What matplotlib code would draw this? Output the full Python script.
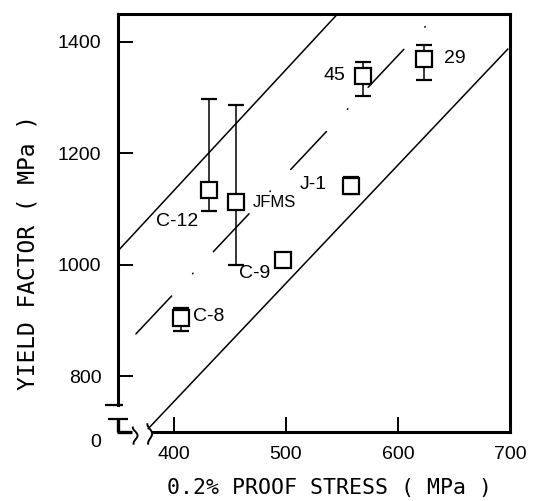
import matplotlib
matplotlib.use("Agg")
import matplotlib.pyplot as plt
import numpy as np

# ---------------- data ----------------
steel = ["C-12", "JFMS", "C-9", "C-8", "J-1", "45", "29"]
proof_stress = [431, 455, 497, 406, 558, 569, 623]
yield_factor = [1135, 1112, 1009, 905, 1142, 1339, 1369]

eb_steel = ["C-12", "JFMS", "C-8", "J-1", "45", "29"]
eb_x = [431, 455, 406, 558, 569, 623]
eb_y = [1135, 1112, 905, 1142, 1339, 1369]
eb_low = [1096, 1000, 882, 1127, 1303, 1331]
eb_high = [1297, 1287, 923, 1157, 1364, 1394]

upper_x = [350, 546]
upper_y = [1025, 1450]
mid_x = [366, 626]
mid_y = [876, 1431]
lower_x = [377, 698]
lower_y = [706, 1387]

xticks = [400, 500, 600, 700]
xticklabels = ["400", "500", "600", "700"]
yticks = [800, 1000, 1200, 1400]
yticklabels = ["800", "1000", "1200", "1400"]

# ---------------- figure ----------------
plt.rcParams["font.family"] = ["Liberation Sans", "DejaVu Sans"]
plt.rcParams["lines.scale_dashes"] = False

fig = plt.figure(figsize=(5.42, 5.01), dpi=100)
ax = fig.add_axes([118 / 542, 69 / 501, 392 / 542, 418 / 501])
ax.set_xlim(350, 700)
ax.set_ylim(700, 1450)

lw = 1.1
ax.plot(upper_x, upper_y, color="black", lw=lw, zorder=1)
ax.plot(lower_x, lower_y, color="black", lw=lw, zorder=1)
ax.plot(mid_x, mid_y, color="black", lw=lw, zorder=1,
        linestyle=(0, (37.5, 22, 0.5, 21.3)), dash_capstyle="round")

yerr = [np.array(eb_y) - np.array(eb_low), np.array(eb_high) - np.array(eb_y)]
ax.errorbar(eb_x, eb_y, yerr=yerr, fmt="none", ecolor="black",
            elinewidth=1.1, capsize=5.6, capthick=1.6, zorder=2)
ax.plot(proof_stress, yield_factor, "s", ms=11, mfc="white", mec="black",
        mew=1.6, zorder=3)

offsets = {"C-12": (-37.7, -23), "JFMS": (12.5, 0), "C-9": (-31.2, -10),
           "C-8": (8.6, 0.7), "J-1": (-37.2, 0.5), "45": (-28.8, 0),
           "29": (14.4, 0.5)}
for name, x, y in zip(steel, proof_stress, yield_factor):
    fs = 12 if name == "JFMS" else 14
    ax.annotate(name, (x, y), xytext=offsets[name], textcoords="offset points",
                ha="left", va="center", fontsize=fs, zorder=4)

# ---------------- axes styling ----------------
for s in ax.spines.values():
    s.set_linewidth(2.2)
ax.spines["left"].set_bounds(748, 1450)
ax.spines["bottom"].set_bounds(381, 700)

ax.set_xticks(xticks)
ax.set_xticklabels(xticklabels)
ax.set_yticks(yticks)
ax.set_yticklabels(yticklabels)
ax.tick_params(axis="both", direction="in", length=11, width=1.4,
               labelsize=14, top=False, right=False)
ax.tick_params(axis="y", pad=12)
ax.tick_params(axis="x", pad=10)

# broken-axis marks
k = dict(color="black", clip_on=False, zorder=5, solid_capstyle="butt")
ax.plot([338.5, 354.5], [748, 748], lw=1.6, **k)
ax.plot([341, 359], [724, 724], lw=1.6, **k)
ax.plot([350, 350], [724, 700], lw=2.4, **k)
ax.plot([349, 362.5], [700, 700], lw=2.4, **k)
t = np.linspace(0, 1, 30)
for xc, ytop, ybot in [(365.5, 708, 679), (378.5, 714, 679)]:
    xs = xc + 2.3 * np.sin(np.pi * (2 * t - 0.5)) * (1 - 0.3 * t)
    ys = ytop + (ybot - ytop) * t
    ax.plot(xs, ys, lw=1.4, color="black", clip_on=False, zorder=5)
ax.text(335, 682, "0", ha="right", va="center", fontsize=14)

ax.set_xlabel("0.2% PROOF STRESS ( MPa )", family="DejaVu Sans Mono",
              fontsize=15.5, va="center")
ax.xaxis.set_label_coords((329.5 - 118) / 392, (432 - 488) / 418)
ax.set_ylabel("YIELD FACTOR ( MPa )", family="DejaVu Sans Mono",
              fontsize=16.5, va="center", ha="center")
ax.yaxis.set_label_coords((28 - 118) / 392, (432 - 252) / 418)

fig.savefig("out.png", dpi=100)
